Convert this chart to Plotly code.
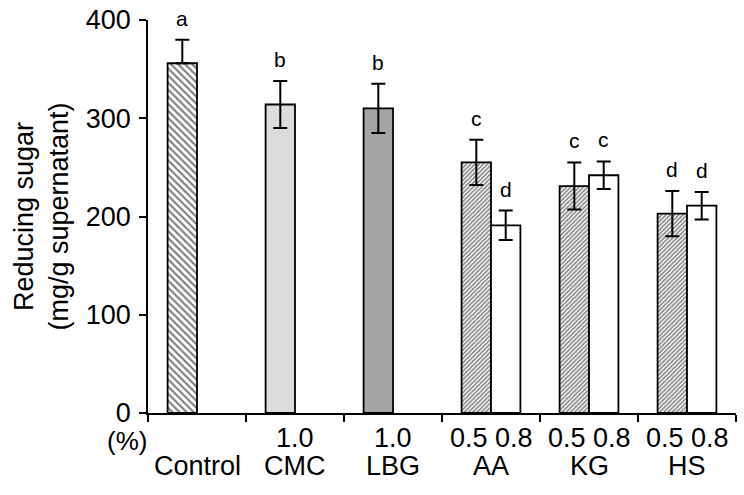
import plotly.graph_objects as go

categories = ["Control", "CMC", "LBG", "AA", "KG", "HS"]
conc_low = ["", "1.0", "1.0", "0.5", "0.5", "0.5"]
conc_high = ["", "", "", "0.8", "0.8", "0.8"]

low_values = [356, 314, 310, 255, 231, 203]
low_err_up = [24, 24, 25, 23, 24, 23]
low_err_down = [0, 24, 25, 23, 24, 23]
low_letters = ["a", "b", "b", "c", "c", "d"]

high_values = [None, None, None, 191, 242, 211]
high_err = [0, 0, 0, 15, 14, 14]
high_letters = ["", "", "", "d", "c", "d"]

y_ticks = [0, 100, 200, 300, 400]

FONT = "Liberation Sans, Arial, sans-serif"

# style groups for the left (low / single) bar of each category
low_styles = [
    dict(idx=[0], color="white", pattern=dict(shape="\\", fgcolor="black", bgcolor="white", size=5, solidity=0.42)),
    dict(idx=[1], color="#dcdcdc", pattern=None),
    dict(idx=[2], color="#a4a4a4", pattern=None),
    dict(idx=[3, 4, 5], color="white", pattern=dict(shape="/", fgcolor="#111111", bgcolor="white", size=3, solidity=0.55)),
]

fig = go.Figure()
for st in low_styles:
    marker = dict(color=st["color"], line=dict(color="black", width=1.8))
    if st["pattern"]:
        marker["pattern"] = st["pattern"]
    fig.add_trace(go.Bar(
        x=[categories[i] for i in st["idx"]],
        y=[low_values[i] for i in st["idx"]],
        offsetgroup="low",
        marker=marker,
        error_y=dict(type="data", symmetric=False,
                     array=[low_err_up[i] for i in st["idx"]],
                     arrayminus=[low_err_down[i] for i in st["idx"]],
                     color="black", thickness=2, width=7),
        showlegend=False,
    ))

fig.add_trace(go.Bar(
    x=categories, y=high_values, offsetgroup="high",
    marker=dict(color="white", line=dict(color="black", width=1.8)),
    error_y=dict(type="data", array=high_err, color="black", thickness=2, width=7),
    showlegend=False,
))

letter_font = dict(size=21, family=FONT, color="black")
label_font = dict(size=27, family=FONT, color="black")
annotations = []
for c, v, e, t in zip(categories, low_values, low_err_up, low_letters):
    if t:
        annotations.append(dict(x=c, y=v + e, text=t, showarrow=False, xshift=-14.7,
                                yanchor="bottom", yshift=8, font=letter_font))
for c, v, e, t in zip(categories, high_values, high_err, high_letters):
    if t and v is not None:
        annotations.append(dict(x=c, y=v + e, text=t, showarrow=False, xshift=14.7,
                                yanchor="bottom", yshift=8, font=letter_font))

# two-row category labels under the axis
for c, lo, hi in zip(categories, conc_low, conc_high):
    top = (lo + " " + hi).strip()
    if top:
        annotations.append(dict(x=c, xref="x", yref="paper", y=0, text=top, showarrow=False,
                                yanchor="middle", yshift=-25, font=label_font))
    annotations.append(dict(x=c, xref="x", yref="paper", y=0, text=c, showarrow=False,
                            yanchor="middle", yshift=-53, font=label_font))
annotations.append(dict(xref="paper", yref="paper", x=0, y=0, text="(%)", showarrow=False,
                        xanchor="right", yanchor="middle", xshift=1, yshift=-28,
                        font=dict(size=26, family=FONT, color="black")))

fig.update_layout(
    width=744, height=495,
    margin=dict(l=148, r=8, t=20, b=82),
    paper_bgcolor="white", plot_bgcolor="white",
    font=dict(family=FONT, color="black", size=24),
    barmode="group", bargap=0.4, bargroupgap=0,
    annotations=annotations,
)
fig.update_xaxes(
    type="category", categoryorder="array", categoryarray=categories,
    tickvals=categories, showticklabels=False, automargin=False,
    tickson="boundaries", ticks="outside", ticklen=7, tickwidth=1.5, tickcolor="black",
    showline=True, linecolor="black", linewidth=1.5, showgrid=False, zeroline=False,
)
fig.update_yaxes(
    range=[0, 400], tickvals=y_ticks, ticks="outside", ticklen=7, tickwidth=1.5, tickcolor="black",
    showline=True, linecolor="black", linewidth=1.5, showgrid=False, zeroline=False,
    automargin=False, ticklabelstandoff=3, ticklabeloverflow="allow",
    tickfont=dict(size=27, family=FONT, color="black"),
    title=dict(text="Reducing sugar<br>(mg/g supernatant)", standoff=9,
               font=dict(size=27, family=FONT, color="black")),
)

fig.write_html("out.html", config={"displayModeBar": False},
               post_script="document.body.style.margin='0';")
